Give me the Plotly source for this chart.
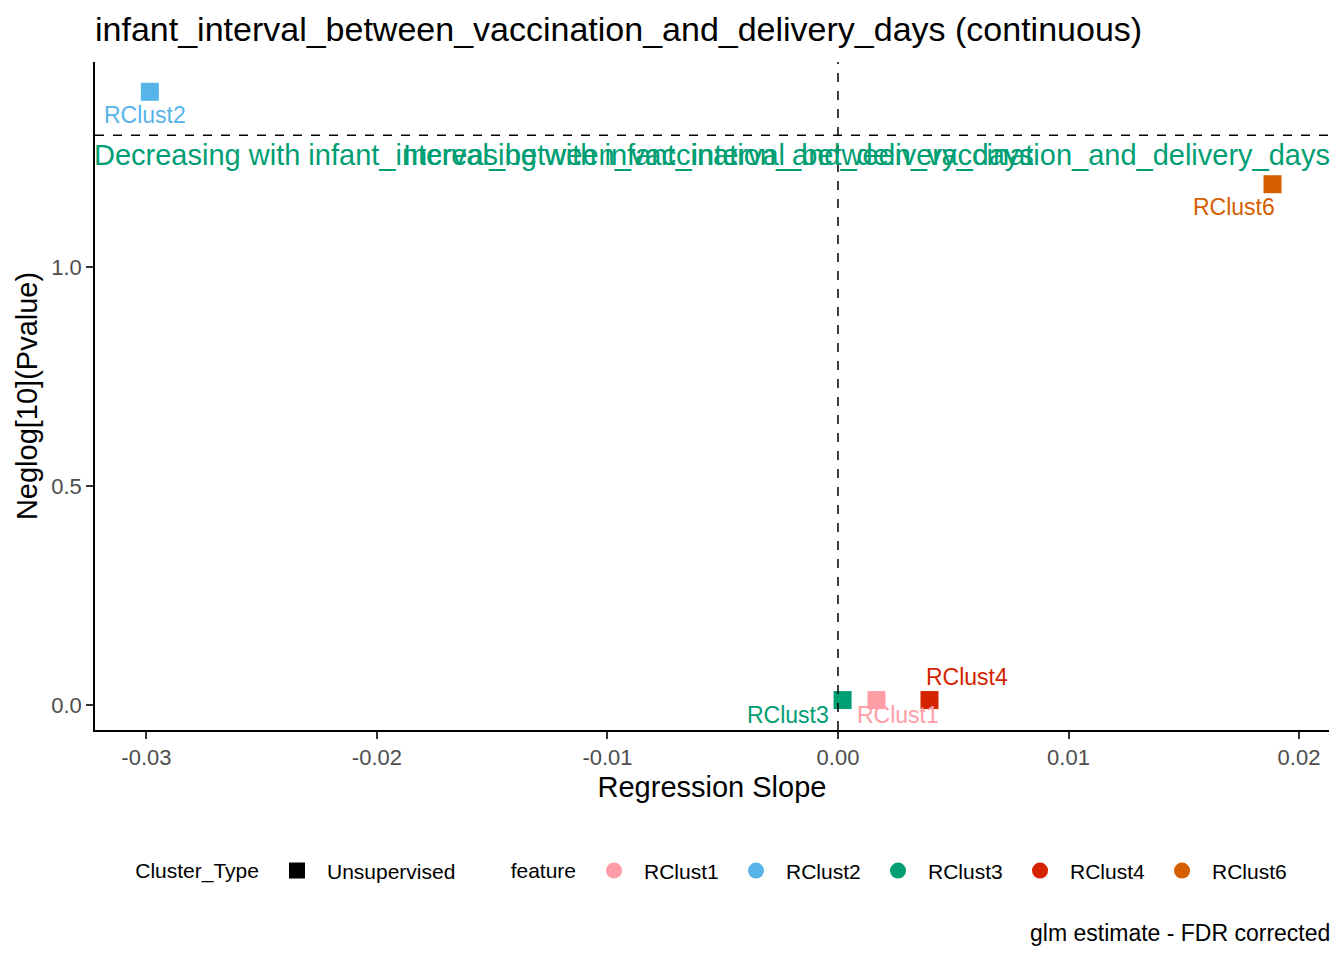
import plotly.graph_objects as go

# values
features = ["RClust1", "RClust2", "RClust3", "RClust4", "RClust6"]
slopes = [0.00167, -0.02985, 0.0002, 0.00397, 0.01885]
neglog_p = [0.0114, 1.40, 0.0114, 0.0114, 1.189]
cluster_types = ["Unsupervised"]
x_ticks = [-0.03, -0.02, -0.01, 0.0, 0.01, 0.02]
x_tick_labels = ["-0.03", "-0.02", "-0.01", "0.00", "0.01", "0.02"]
y_ticks = [0.0, 0.5, 1.0]
y_tick_labels = ["0.0", "0.5", "1.0"]
p_cut = 1.30103  # -log10(0.05)
trait = "infant_interval_between_vaccination_and_delivery_days"

colors = {"RClust1": "#FF9DA7", "RClust2": "#56B4E9", "RClust3": "#009E73",
          "RClust4": "#D42300", "RClust6": "#D55E00"}
# label offsets in pixels (repel-like placement)
label_shift = {"RClust1": (22, -15), "RClust2": (-5, -23), "RClust3": (-55, -15),
               "RClust4": (37, 23), "RClust6": (-39, -23)}

font = "Liberation Sans, Arial, sans-serif"

fig = go.Figure()

for f, x, y in zip(features, slopes, neglog_p):
    fig.add_trace(go.Scatter(x=[x], y=[y], mode="markers", showlegend=False,
                             marker=dict(symbol="square", size=18, color=colors[f])))
    dx, dy = label_shift[f]
    fig.add_annotation(x=x, y=y, text=f, showarrow=False, xshift=dx, yshift=dy,
                       font=dict(size=23, color=colors[f], family=font))

# legend entries
for ct in cluster_types:
    fig.add_trace(go.Scatter(x=[None], y=[None], mode="markers", name=ct, legend="legend",
                             marker=dict(symbol="square", size=16, color="black")))
for f in features:
    fig.add_trace(go.Scatter(x=[None], y=[None], mode="markers", name=f, legend="legend2",
                             marker=dict(symbol="circle", size=16, color=colors[f])))

fig.add_hline(y=p_cut, line=dict(color="black", width=1.5, dash="dash"))
fig.add_vline(x=0, line=dict(color="black", width=1.5, dash="dash"))

fig.add_annotation(xref="x domain", x=0, y=1.255, xanchor="left", showarrow=False, xshift=-3,
                   text="Decreasing with " + trait, font=dict(size=29, color="#009E73", family=font))
fig.add_annotation(xref="x domain", x=1, y=1.255, xanchor="right", showarrow=False, xshift=3,
                   text="Increasing with " + trait, font=dict(size=29, color="#009E73", family=font))
fig.add_annotation(xref="paper", yref="paper", x=1, y=-0.304, xanchor="right", yanchor="middle",
                   showarrow=False, text="glm estimate - FDR corrected", xshift=3,
                   font=dict(size=23, color="black", family=font))

# page body has an 8px margin, so the figure is made 8px smaller and margins shifted
fig.update_layout(
    width=1336, height=952,
    paper_bgcolor="white", plot_bgcolor="white",
    margin=dict(l=87, r=15, t=54, b=230),
    font=dict(family=font, color="black"),
    title=dict(text=trait + " (continuous)", x=0, xref="paper", xanchor="left",
               y=1 - 21 / 952, yanchor="middle", font=dict(size=34, color="black")),
    xaxis=dict(range=[-0.03223, 0.0213], tickvals=x_ticks, ticktext=x_tick_labels,
               showgrid=False, zeroline=False, showline=True, linecolor="black", linewidth=1.5,
               ticks="outside", ticklen=7, tickcolor="#333333", tickwidth=1.5,
               tickfont=dict(size=22, color="#4D4D4D"),
               title=dict(text="Regression Slope", font=dict(size=29), standoff=8)),
    yaxis=dict(range=[-0.057, 1.468], tickvals=y_ticks, ticktext=y_tick_labels,
               showgrid=False, zeroline=False, showline=True, linecolor="black", linewidth=1.5,
               ticks="outside", ticklen=7, tickcolor="#333333", tickwidth=1.5,
               tickfont=dict(size=22, color="#4D4D4D"),
               title=dict(text="Neglog[10](Pvalue)", font=dict(size=29), standoff=5)),
    legend=dict(orientation="h", x=0.031, y=-0.211, xanchor="left", yanchor="middle",
                itemwidth=50,
                title=dict(text="Cluster_Type", font=dict(size=21)), font=dict(size=21)),
    legend2=dict(orientation="h", x=0.3352, y=-0.211, xanchor="left", yanchor="middle",
                 itemwidth=50,
                 title=dict(text="feature", font=dict(size=21)), font=dict(size=21),
                 entrywidth=77),
)

fig.write_html("out.html")
